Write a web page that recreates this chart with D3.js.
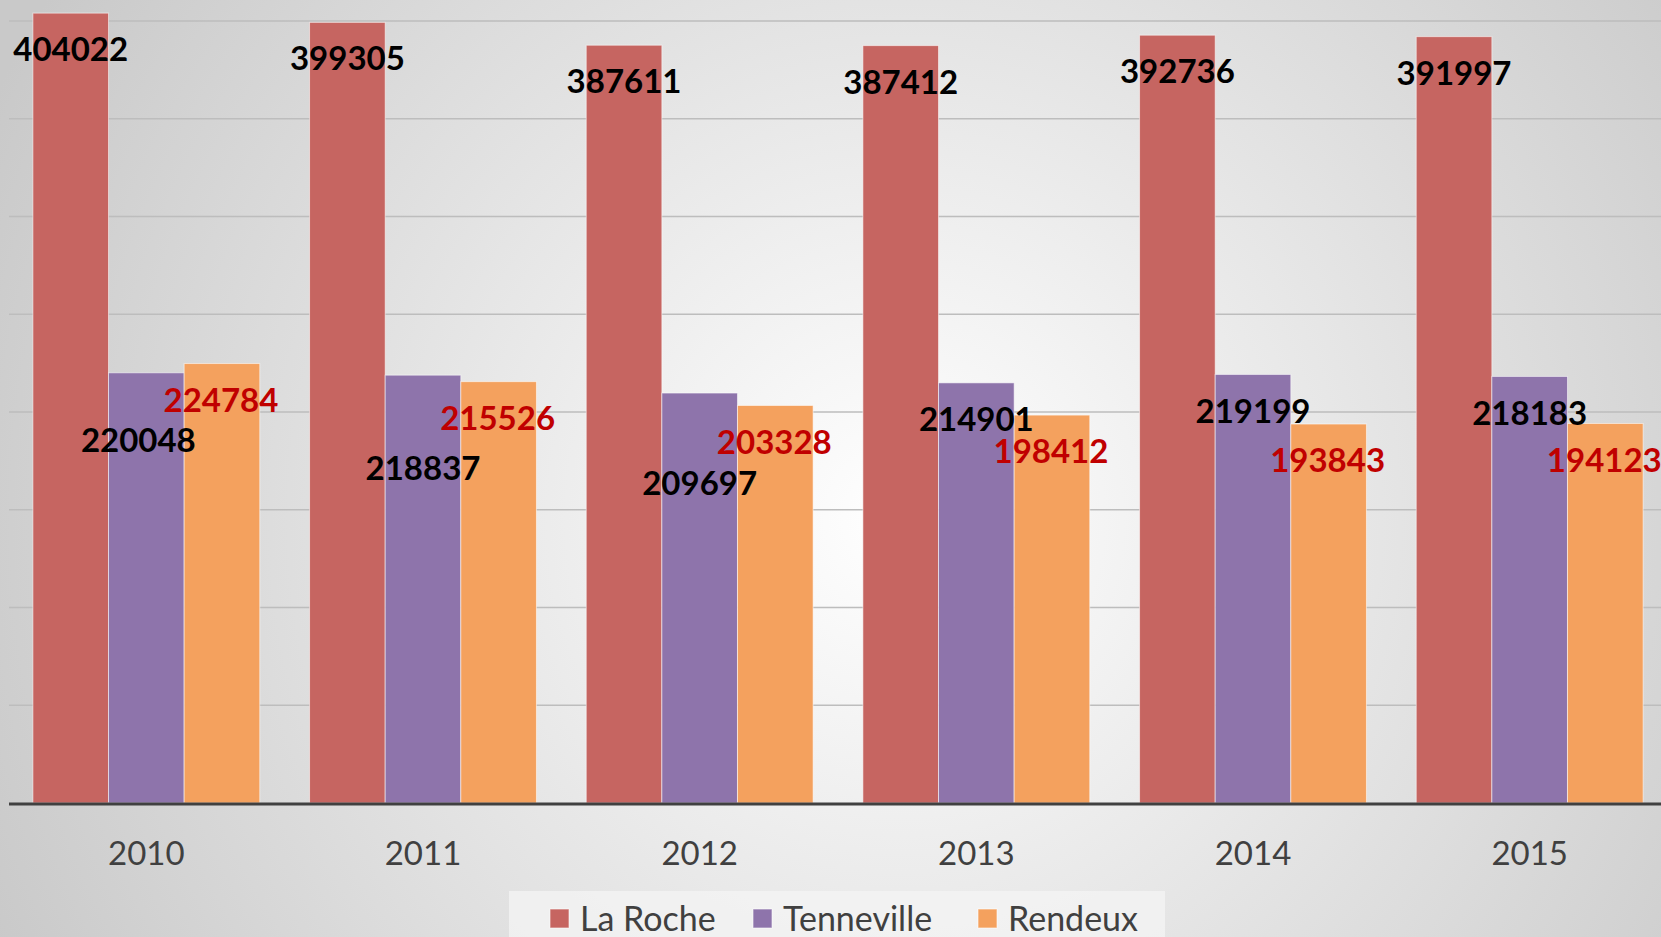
<!DOCTYPE html>
<html>
<head>
<meta charset="utf-8">
<script src="https://cdn.jsdelivr.net/npm/d3@7"></script>
<style>
  html, body { margin: 0; padding: 0; overflow: hidden; background: #fff; }
  #chart svg { display: block; }
</style>
</head>
<body>
<div id="chart"></div>
<script>
/* ========= DATA ========= */
const years = ['2010', '2011', '2012', '2013', '2014', '2015'];
const seriesNames = ['La Roche', 'Tenneville', 'Rendeux'];
const laRoche = [404022, 399305, 387611, 387412, 392736, 391997];
const tenneville = [220048, 218837, 209697, 214901, 219199, 218183];
const rendeux = [224784, 215526, 203328, 198412, 193843, 194123];
const gridTicks = [0, 50000, 100000, 150000, 200000, 250000, 300000, 350000, 400000];

/* ========= CONFIG (layout + style) ========= */
const CONFIG = {
  width: 1661,
  height: 937,
  plot: { left: 8, right: 1668, top: 21, bottom: 803, gridLeft: 9 },
  colors: ['#c66561', '#8e74ab', '#f4a15e'],
  labelColors: ['#000000', '#000000', '#c00000'],
  labelOffset: 36.5,
  // manual nudges of single labels [dx, dy], per series then per year
  labelNudge: [
    [[0, 0], [0, 0], [0, 0], [0, 0], [0, 0], [0, 0]],
    [[-8, 31], [0, 57], [0, 54], [0, 0], [0, 0], [0, 0]],
    [[-1, 0], [-1, 0], [-1, 0], [-1, 0], [-1, 0], [-1, 0]],
  ],
  font: 'Lato, "Open Sans", "DejaVu Sans", sans-serif',
};

const seriesValues = [laRoche, tenneville, rendeux];
const rows = years.map((y, i) => ({
  year: y,
  values: seriesNames.map((s, k) => ({ series: s, k: k, i: i, value: seriesValues[k][i] })),
}));

const svg = d3.select('#chart').append('svg')
  .attr('width', CONFIG.width)
  .attr('height', CONFIG.height);

/* ========= BACKGROUND ========= */
const defs = svg.append('defs');
const bg = defs.append('radialGradient')
  .attr('id', 'bg')
  .attr('gradientUnits', 'userSpaceOnUse')
  .attr('cx', 900).attr('cy', 520).attr('r', 1000);
bg.append('stop').attr('offset', '0%').attr('stop-color', '#ffffff');
bg.append('stop').attr('offset', '100%').attr('stop-color', '#c9c9c9');

svg.append('rect')
  .attr('width', CONFIG.width)
  .attr('height', CONFIG.height)
  .attr('fill', 'url(#bg)');

/* ========= SCALES ========= */
const x0 = d3.scaleBand()
  .domain(years)
  .range([CONFIG.plot.left, CONFIG.plot.right])
  .paddingInner(0.18)
  .paddingOuter(0.09);

const x1 = d3.scaleBand()
  .domain(seriesNames)
  .range([0, x0.bandwidth()])
  .padding(0);

const y = d3.scaleLinear()
  .domain([0, 400000])
  .range([CONFIG.plot.bottom, CONFIG.plot.top]);

const color = d3.scaleOrdinal().domain(seriesNames).range(CONFIG.colors);

/* ========= GRID ========= */
svg.append('g')
  .selectAll('line')
  .data(gridTicks.filter((d) => d > 0))
  .enter()
  .append('line')
  .attr('x1', CONFIG.plot.gridLeft)
  .attr('x2', CONFIG.width)
  .attr('y1', (d) => y(d))
  .attr('y2', (d) => y(d))
  .attr('stroke', '#bdbdbd')
  .attr('stroke-width', 1.5);

/* ========= BARS ========= */
const groups = svg.append('g')
  .selectAll('g')
  .data(rows)
  .enter()
  .append('g')
  .attr('transform', (d) => `translate(${x0(d.year)},0)`);

groups.selectAll('rect')
  .data((d) => d.values)
  .enter()
  .append('rect')
  .attr('x', (d) => x1(d.series))
  .attr('y', (d) => y(d.value))
  .attr('width', x1.bandwidth())
  .attr('height', (d) => y(0) - y(d.value))
  .attr('fill', (d) => color(d.series))
  .attr('stroke', 'rgba(255,255,255,0.55)')
  .attr('stroke-width', 1);

/* ========= BASELINE ========= */
svg.append('line')
  .attr('x1', CONFIG.plot.gridLeft)
  .attr('x2', CONFIG.width)
  .attr('y1', y(0) + 1)
  .attr('y2', y(0) + 1)
  .attr('stroke', '#404040')
  .attr('stroke-width', 3);

/* ========= DATA LABELS ========= */
groups.selectAll('text')
  .data((d) => d.values)
  .enter()
  .append('text')
  .attr('x', (d) => x1(d.series) + x1.bandwidth() / 2 + CONFIG.labelNudge[d.k][d.i][0])
  .attr('y', (d) => y(d.value) + CONFIG.labelOffset + CONFIG.labelNudge[d.k][d.i][1])
  .attr('dy', '0.35em')
  .attr('text-anchor', 'middle')
  .attr('font-family', CONFIG.font)
  .attr('font-weight', 700)
  .attr('font-size', 33)
  .attr('fill', (d) => CONFIG.labelColors[d.k])
  .text((d) => d.value);

/* ========= X AXIS ========= */
const xAxis = d3.axisBottom(x0).tickSize(0).tickPadding(0);
const xAxisG = svg.append('g')
  .attr('transform', `translate(0,${y(0)})`)
  .call(xAxis);
xAxisG.select('.domain').remove();
xAxisG.selectAll('text')
  .attr('y', 50)
  .attr('dy', '0.35em')
  .attr('font-family', CONFIG.font)
  .attr('font-size', 33)
  .attr('fill', '#404040');

/* ========= LEGEND ========= */
svg.append('rect')
  .attr('x', 509)
  .attr('y', 891)
  .attr('width', 656)
  .attr('height', 60)
  .attr('fill', '#f4f4f4')
  .attr('opacity', 0.75);

const legendX = [550, 753, 978];
const legend = svg.append('g')
  .selectAll('g')
  .data(seriesNames)
  .enter()
  .append('g')
  .attr('transform', (d, i) => `translate(${legendX[i]},909)`);

legend.append('rect')
  .attr('width', 19)
  .attr('height', 19)
  .attr('fill', (d) => color(d))
  .attr('stroke', 'rgba(255,255,255,0.6)');

legend.append('text')
  .attr('x', 30)
  .attr('y', 10)
  .attr('dy', '0.35em')
  .attr('font-family', CONFIG.font)
  .attr('font-size', 34)
  .attr('fill', '#404040')
  .text((d) => d);
</script>
</body>
</html>
